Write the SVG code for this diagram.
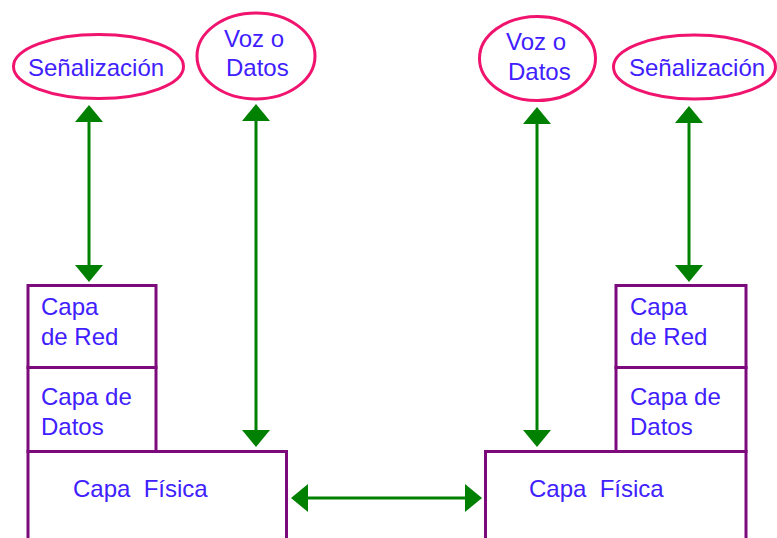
<svg xmlns="http://www.w3.org/2000/svg" width="777" height="538" viewBox="0 0 777 538">
<style>
.oval{fill:#ffffff;stroke:#f0146e;stroke-width:3}
.box{fill:#ffffff;stroke:#7d0a7d;stroke-width:3}
.t{font-family:"Liberation Sans",Arial,sans-serif;font-size:24px;fill:#4020ff}
.arr{stroke:#008000;stroke-width:3;fill:none;marker-start:url(#ah);marker-end:url(#ah)}
</style>
<defs>
<marker id="ah" viewBox="0 0 17 28" refX="9" refY="14" markerWidth="17" markerHeight="28" markerUnits="userSpaceOnUse" orient="auto-start-reverse">
<path d="M0,0 L17,14 L0,28 z" fill="#008000"/>
</marker>
</defs>
<rect width="777" height="538" fill="#ffffff"/>
<g id="senal-izq">
<ellipse class="oval" cx="98.5" cy="66.5" rx="85" ry="32"/>
<text class="t" x="28" y="76">Señalización</text>
</g>
<g id="voz-izq">
<ellipse class="oval" cx="256" cy="56" rx="59" ry="43"/>
<text class="t" x="224" y="47">Voz o</text>
<text class="t" x="226" y="76">Datos</text>
</g>
<g id="voz-der">
<ellipse class="oval" cx="537.5" cy="58.5" rx="58" ry="42"/>
<text class="t" x="506" y="50">Voz o</text>
<text class="t" x="508" y="80">Datos</text>
</g>
<g id="senal-der">
<ellipse class="oval" cx="694.5" cy="67" rx="81" ry="32"/>
<text class="t" x="629" y="76">Señalización</text>
</g>
<g id="red-izq">
<rect class="box" x="28" y="285.5" width="128" height="82"/>
<text class="t" x="41" y="315">Capa</text>
<text class="t" x="41" y="345">de Red</text>
</g>
<g id="datos-izq">
<rect class="box" x="28" y="367.5" width="128" height="84"/>
<text class="t" x="41" y="405">Capa de</text>
<text class="t" x="41" y="435">Datos</text>
</g>
<g id="fisica-izq">
<rect class="box" x="28" y="451.5" width="258.5" height="110"/>
<text class="t" x="73" y="497" xml:space="preserve">Capa  Física</text>
</g>
<g id="red-der">
<rect class="box" x="616" y="285.5" width="130" height="82"/>
<text class="t" x="630" y="315">Capa</text>
<text class="t" x="630" y="345">de Red</text>
</g>
<g id="datos-der">
<rect class="box" x="616" y="367.5" width="130" height="84"/>
<text class="t" x="630" y="405">Capa de</text>
<text class="t" x="630" y="435">Datos</text>
</g>
<g id="fisica-der">
<rect class="box" x="485.5" y="451.5" width="260.5" height="110"/>
<text class="t" x="529" y="497" xml:space="preserve">Capa  Física</text>
</g>
<g id="connectors">
<line class="arr" x1="89" y1="113" x2="89" y2="274"/>
<line class="arr" x1="256" y1="112" x2="256" y2="439"/>
<line class="arr" x1="537" y1="115" x2="537" y2="439"/>
<line class="arr" x1="689" y1="114" x2="689" y2="274"/>
<line class="arr" x1="299" y1="498" x2="474" y2="498"/>
</g>
</svg>
